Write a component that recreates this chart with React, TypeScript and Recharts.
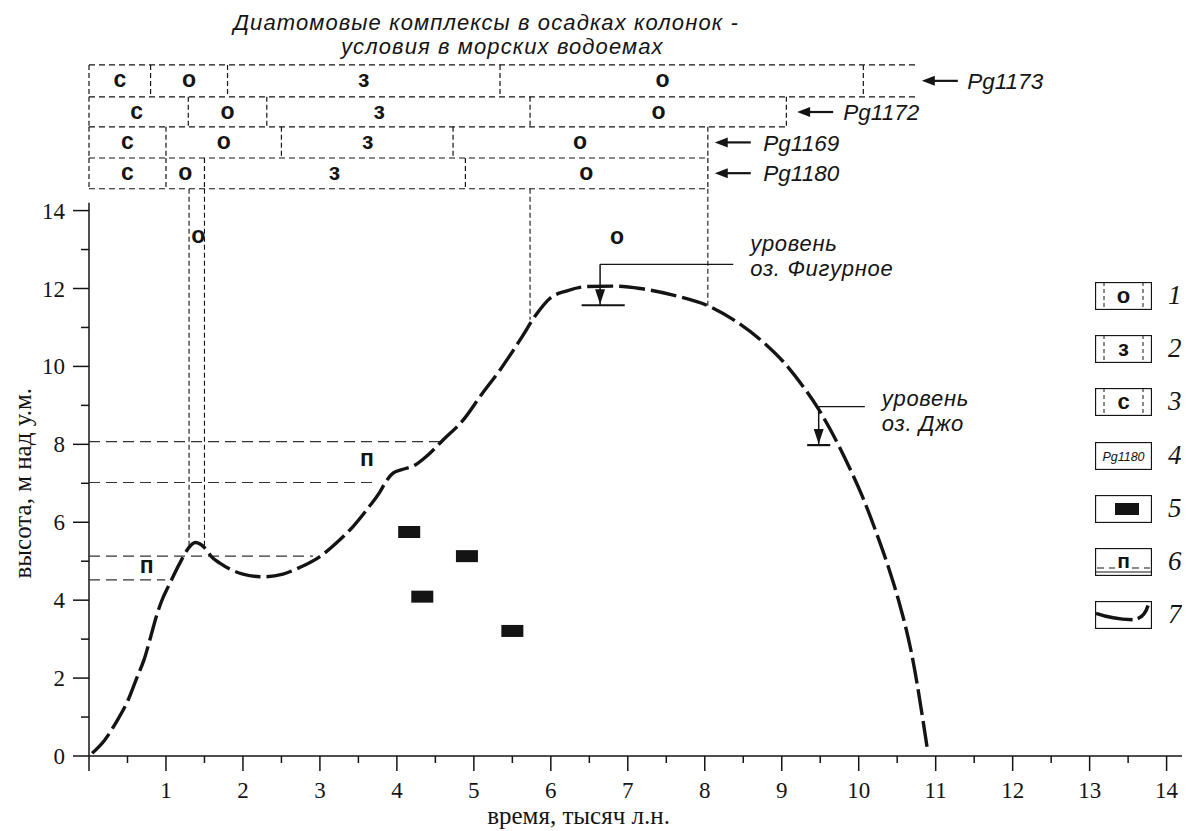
import React from 'react';
import { ComposedChart, Line, Scatter, XAxis, YAxis, ReferenceLine, ReferenceDot } from 'recharts';

const SANS = "'Liberation Sans', Arial, sans-serif";
const SERIF = "'Liberation Serif', 'Times New Roman', serif";
const INK = '#141414';

// кривая уровня моря: время (тыс. л.н.) и высота (м над у.м.)
const levelTime = [0.04, 0.2, 0.36, 0.5, 0.62, 0.72, 0.8, 0.87, 0.94, 1.05, 1.18, 1.29, 1.38, 1.51, 1.59, 1.7, 1.85, 2.0, 2.26, 2.52, 2.75, 3.0, 3.22, 3.43, 3.62, 3.78, 3.86, 3.95, 4.08, 4.21, 4.4, 4.6, 4.86, 5.1, 5.34, 5.6, 5.82, 5.99, 6.21, 6.47, 6.81, 7.16, 7.59, 8.05, 8.37, 8.76, 9.02, 9.29, 9.47, 9.62, 9.88, 10.05, 10.22, 10.39, 10.52, 10.69, 10.89];
const levelHeight = [0.07, 0.4, 0.89, 1.4, 2.0, 2.5, 3.05, 3.55, 3.96, 4.43, 4.95, 5.33, 5.48, 5.33, 5.12, 4.95, 4.78, 4.67, 4.6, 4.67, 4.85, 5.12, 5.48, 5.89, 6.35, 6.78, 7.05, 7.26, 7.36, 7.44, 7.72, 8.11, 8.62, 9.28, 9.91, 10.68, 11.36, 11.75, 11.94, 12.05, 12.06, 12.0, 11.83, 11.55, 11.2, 10.62, 10.12, 9.45, 8.93, 8.42, 7.4, 6.65, 5.78, 4.82, 3.98, 2.6, 0.2];

const xTicks = [0, 0.5, 1, 1.5, 2, 2.5, 3, 3.5, 4, 4.5, 5, 5.5, 6, 6.5, 7, 7.5, 8, 8.5, 9, 9.5, 10, 10.5, 11, 11.5, 12, 12.5, 13, 13.5, 14];
const yTicks = [0, 1, 2, 3, 4, 5, 6, 7, 8, 9, 10, 11, 12, 13, 14];

// диатомовые комплексы по колонкам
const cores = ['Pg1173', 'Pg1172', 'Pg1169', 'Pg1180'];
const zoneOrder = ['с', 'о', 'з', 'о'];
const coreBounds = [
  [0, 0.8, 1.8, 5.34, 10.06],
  [0, 1.29, 2.31, 5.73, 9.06],
  [0, 1.0, 2.5, 4.73, 8.04],
  [0, 1.0, 1.5, 4.89, 8.04],
];
const zoneLabelX = [
  [0.4, 1.3, 3.57, 7.45],
  [0.62, 1.8, 3.77, 7.4],
  [0.5, 1.75, 3.62, 6.38],
  [0.5, 1.25, 3.19, 6.46],
];
const rowEdgeY = [17.74, 16.92, 16.15, 15.35, 14.56];
const rowEdgeEnd = [10.77, 10.77, 9.06, 8.04, 8.04];
const rowMidY = [17.33, 16.53, 15.75, 14.96];
const arrowTipX = [10.82, 9.2, 8.13, 8.13];
const coreNameX = [11.41, 9.8, 8.76, 8.76];

const titleLines = ['Диатомовые комплексы в осадках колонок -', 'условия в морских водоемах'];
const titleX = [5.16, 5.37];
const titleY = [18.84, 18.22];

// вертикальные границы, опущенные к кривой
const dropX = [1.3, 1.5, 5.73, 8.04];
const dropBottom = [5.35, 5.35, 11.2, 11.55];

// уровни террас (п)
const terraceY = [8.07, 7.02, 5.13, 4.52];
const terraceEnd = [4.56, 3.74, 2.91, 0.99];

const markText = ['о', 'о', 'п', 'п'];
const markX = [1.42, 6.86, 0.75, 3.61];
const markY = [13.33, 13.32, 4.86, 7.6];

// датированные образцы
const datedX = [4.16, 4.91, 4.33, 5.5];
const datedY = [5.75, 5.13, 4.09, 3.21];

// озёра
const lakeNames = ['оз. Фигурное', 'оз. Джо'];
const lakeX = [6.64, 9.48];
const lakeLeaderY = [12.62, 8.97];
const lakeLeaderEnd = [8.37, 10.08];
const lakeLevel = [11.57, 7.98];
const lakeBarFrom = [6.4, 9.33];
const lakeBarTo = [6.96, 9.63];
const lakeTextX = [8.59, 10.3];
const lakeTextY = [13.16, 9.18];
const lakeText2Y = [12.52, 8.54];

const legendSigns = ['о', 'з', 'с', 'Pg1180', 'sample', 'п', 'curve'];
const legendNums = ['1', '2', '3', '4', '5', '6', '7'];

const levelData = levelTime.map((x, i) => ({ x, y: levelHeight[i] }));
const zoneMarks = cores.flatMap((_, r) => zoneOrder.map((t, k) => ({ x: zoneLabelX[r][k], y: rowMidY[r], t })));
const inChartMarks = markText.map((t, i) => ({ x: markX[i], y: markY[i], t }));
const arrows = cores.map((_, i) => ({ x: arrowTipX[i], y: rowMidY[i] }));
const titles = titleLines.map((t, i) => ({ x: titleX[i], y: titleY[i], t, anchor: 'middle' }));
const coreNotes = cores.map((t, i) => ({ x: coreNameX[i], y: rowMidY[i], t, anchor: 'start' }));
const lakeNotes = lakeNames.flatMap((t, i) => [
  { x: lakeTextX[i], y: lakeTextY[i], t: 'уровень', anchor: 'start' },
  { x: lakeTextX[i], y: lakeText2Y[i], t, anchor: 'start' },
]);
const samples = datedX.map((x, i) => ({ x, y: datedY[i] }));
const lakeMarks = lakeX.map((x, i) => ({ x, y: lakeLevel[i] }));

const XTick = (props: any) => {
  const { x, y, payload } = props;
  const v = payload.value;
  const major = Number.isInteger(v);
  return (
    <g>
      <line x1={x} x2={x} y1={y} y2={y + (major ? 15 : 7)} stroke={INK} strokeWidth={1.5} />
      {major && v > 0 && (
        <text x={x} y={y + 42} textAnchor="middle" fontFamily={SERIF} fontSize={23} fill={INK}>{v}</text>
      )}
    </g>
  );
};

const YTick = (props: any) => {
  const { x, y, payload } = props;
  const v = payload.value;
  const major = v % 2 === 0;
  return (
    <g>
      <line x1={x - (major ? 16 : 8)} x2={x} y1={y} y2={y} stroke={INK} strokeWidth={1.5} />
      {major && (
        <text x={x - 24} y={y + 8} textAnchor="end" fontFamily={SERIF} fontSize={23} fill={INK}>{v}</text>
      )}
    </g>
  );
};

const boldLetter = (props: any) => (
  <text x={props.cx} y={props.cy + 6.5} textAnchor="middle" fontFamily={SANS} fontWeight="bold" fontSize={23} fill={INK}>
    {props.payload.t}
  </text>
);

const noteShape = (size: number, spacing: number) => (props: any) => (
  <text x={props.cx} y={props.cy + size * 0.36} textAnchor={props.payload.anchor} fontFamily={SANS} fontStyle="italic"
    fontSize={size} letterSpacing={spacing} fill={INK}>
    {props.payload.t}
  </text>
);
const titleShape = noteShape(22, 1.1);
const coreShape = noteShape(22.5, 0);
const lakeShape = noteShape(22, 0.7);

const arrowShape = (props: any) => {
  const { cx, cy } = props;
  return (
    <g>
      <line x1={cx + 8} x2={cx + 36} y1={cy} y2={cy} stroke={INK} strokeWidth={2.2} />
      <polygon points={`${cx},${cy} ${cx + 13},${cy - 5} ${cx + 13},${cy + 5}`} fill={INK} />
    </g>
  );
};

const sampleShape = (props: any) => (
  <rect x={props.cx - 11} y={props.cy - 6} width={22} height={12} fill={INK} />
);

const triangleShape = (props: any) => {
  const { cx, cy } = props;
  return <polygon points={`${cx - 5},${cy - 16} ${cx + 5},${cy - 16} ${cx},${cy - 1}`} fill={INK} />;
};

const LegendSign = ({ sign }: { sign: string }) => {
  const w = 57;
  const h = 28;
  let inner: React.ReactNode = null;
  if (sign === 'о' || sign === 'з' || sign === 'с') {
    inner = (
      <>
        <line x1={9} x2={9} y1={0} y2={h} stroke={INK} strokeWidth={1} strokeDasharray="4 3" />
        <line x1={w - 9} x2={w - 9} y1={0} y2={h} stroke={INK} strokeWidth={1} strokeDasharray="4 3" />
        <text x={w / 2} y={h / 2 + 6.5} textAnchor="middle" fontFamily={SANS} fontWeight="bold" fontSize={22} fill={INK}>{sign}</text>
      </>
    );
  } else if (sign === 'Pg1180') {
    inner = (
      <text x={w / 2} y={h / 2 + 4.5} textAnchor="middle" fontFamily={SANS} fontStyle="italic" fontSize={12.5} fill={INK}>{sign}</text>
    );
  } else if (sign === 'sample') {
    inner = <rect x={20} y={h / 2 - 6} width={24} height={12} fill={INK} />;
  } else if (sign === 'п') {
    inner = (
      <>
        <line x1={2} x2={20} y1={h - 8} y2={h - 8} stroke={INK} strokeWidth={1.1} strokeDasharray="7 5" />
        <line x1={37} x2={w - 2} y1={h - 8} y2={h - 8} stroke={INK} strokeWidth={1.1} strokeDasharray="7 5" />
        <line x1={0} x2={w} y1={h - 4} y2={h - 4} stroke={INK} strokeWidth={1} />
        <text x={w / 2} y={h - 8} textAnchor="middle" fontFamily={SANS} fontWeight="bold" fontSize={21} fill={INK}>{sign}</text>
      </>
    );
  } else {
    inner = (
      <>
        <path d={`M1 ${h * 0.44} Q ${w * 0.3} ${h * 0.64} ${w * 0.66} ${h * 0.67}`} fill="none" stroke={INK} strokeWidth={3.5} />
        <path d={`M${w * 0.75} ${h * 0.63} Q ${w * 0.88} ${h * 0.52} ${w * 0.93} ${h * 0.16}`} fill="none" stroke={INK} strokeWidth={3.5} />
      </>
    );
  }
  return (
    <svg width={w} height={h} style={{ display: 'block' }}>
      <rect x={0.5} y={0.5} width={w - 1} height={h - 1} fill="#fff" stroke={INK} strokeWidth={1.3} />
      {inner}
    </svg>
  );
};

const App = () => {
  return (
    <div style={{ position: 'relative', width: 1182, height: 823, background: '#fff' }}>
      <ComposedChart width={1182} height={823} margin={{ top: 0, right: 8, bottom: 0, left: 0 }}>
        <XAxis
          type="number"
          dataKey="x"
          domain={[0, 14.2]}
          ticks={xTicks}
          interval={0}
          tick={XTick}
          tickLine={false}
          tickSize={0}
          tickMargin={0}
          height={75}
          axisLine={{ stroke: INK, strokeWidth: 1.5 }}
        />
        <YAxis
          type="number"
          dataKey="y"
          domain={[0, 19.2]}
          ticks={yTicks}
          interval={0}
          tick={YTick}
          tickLine={false}
          tickSize={0}
          tickMargin={0}
          width={81}
          axisLine={false}
        />

        <ReferenceLine segment={[{ x: 0, y: 0 }, { x: 0, y: 14.2 }]} stroke={INK} strokeWidth={1.5} ifOverflow="visible" />

        {rowEdgeY.map((y, i) => (
          <ReferenceLine key={`row-${i}`} segment={[{ x: 0, y }, { x: rowEdgeEnd[i], y }]} stroke={INK} strokeWidth={1.2} strokeDasharray="6 4" ifOverflow="visible" />
        ))}
        {coreBounds.flatMap((row, r) =>
          row.map((b, k) => (
            <ReferenceLine key={`cell-${r}-${k}`} segment={[{ x: b, y: rowEdgeY[r] }, { x: b, y: rowEdgeY[r + 1] }]} stroke={INK} strokeWidth={1.2} strokeDasharray="5 3" ifOverflow="visible" />
          ))
        )}
        {dropX.map((x, i) => (
          <ReferenceLine key={`drop-${i}`} segment={[{ x, y: rowEdgeY[4] }, { x, y: dropBottom[i] }]} stroke={INK} strokeWidth={1.1} strokeDasharray="5 3" ifOverflow="visible" />
        ))}
        {terraceY.map((y, i) => (
          <ReferenceLine key={`ter-${i}`} segment={[{ x: 0, y }, { x: terraceEnd[i], y }]} stroke="#333" strokeWidth={1.2} strokeDasharray="11 6" ifOverflow="visible" />
        ))}
        {lakeX.map((x, i) => (
          <React.Fragment key={`lake-${i}`}>
            <ReferenceLine segment={[{ x, y: lakeLeaderY[i] }, { x: lakeLeaderEnd[i], y: lakeLeaderY[i] }]} stroke={INK} strokeWidth={1.3} ifOverflow="visible" />
            <ReferenceLine segment={[{ x, y: lakeLeaderY[i] }, { x, y: lakeLevel[i] }]} stroke={INK} strokeWidth={1.5} ifOverflow="visible" />
            <ReferenceLine segment={[{ x: lakeBarFrom[i], y: lakeLevel[i] }, { x: lakeBarTo[i], y: lakeLevel[i] }]} stroke={INK} strokeWidth={2.2} ifOverflow="visible" />
          </React.Fragment>
        ))}

        <Line data={levelData} dataKey="y" type="monotone" stroke={INK} strokeWidth={3.4} strokeDasharray="26 6" dot={false} activeDot={false} isAnimationActive={false} />

        <Scatter data={zoneMarks} dataKey="y" shape={boldLetter} isAnimationActive={false} />
        <Scatter data={inChartMarks} dataKey="y" shape={boldLetter} isAnimationActive={false} />
        <Scatter data={titles} dataKey="y" shape={titleShape} isAnimationActive={false} />
        <Scatter data={coreNotes} dataKey="y" shape={coreShape} isAnimationActive={false} />
        <Scatter data={lakeNotes} dataKey="y" shape={lakeShape} isAnimationActive={false} />
        <Scatter data={arrows} dataKey="y" shape={arrowShape} isAnimationActive={false} />
        <Scatter data={samples} dataKey="y" shape={sampleShape} isAnimationActive={false} />
        <Scatter data={lakeMarks} dataKey="y" shape={triangleShape} isAnimationActive={false} />

        <ReferenceDot x={-0.87} y={7} r={0} fill="none" stroke="none" ifOverflow="visible"
          label={{ value: 'высота, м над у.м.', position: 'center', angle: -90, fontSize: 25, fontFamily: SERIF, fill: INK }} />
        <ReferenceDot x={6.36} y={-1.51} r={0} fill="none" stroke="none" ifOverflow="visible"
          label={{ value: 'время, тысяч л.н.', position: 'center', fontSize: 25, fontFamily: SERIF, fill: INK }} />
      </ComposedChart>

      {legendSigns.map((s, i) => (
        <React.Fragment key={`lg-${i}`}>
          <div style={{ position: 'absolute', left: 1087, top: 274 + i * 53.2 }}>
            <LegendSign sign={s} />
          </div>
          <div style={{ position: 'absolute', left: 1160, top: 272 + i * 53.2, fontFamily: SERIF, fontStyle: 'italic', fontSize: 27, lineHeight: '30px', color: INK }}>
            {legendNums[i]}
          </div>
        </React.Fragment>
      ))}
    </div>
  );
};

export default App;
